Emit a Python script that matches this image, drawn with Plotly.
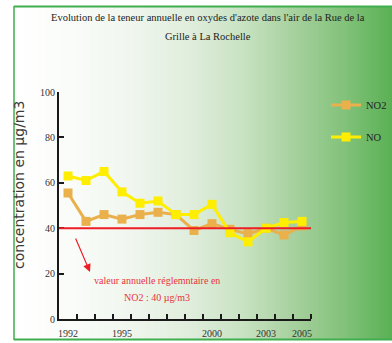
import plotly.graph_objects as go

# Annual means, Rue de la Grille (La Rochelle), µg/m3
years = list(range(1992, 2006))
no2 = [55.5, 43, 46, 44, 46, 47, 46, 39, 42, 39.5, 37.5, 40, 37, 41]
no = [63, 61, 65, 56, 51, 52, 46, 46, 50.5, 38, 34, 40, 42.5, 43]
limit_no2 = 40
tick_years = [1992, 1995, 2000, 2003, 2005]

W, H = 392, 343
L, R, T, B = 59, 311, 92, 319


def px(x):
    return (x - L) / (R - L)


def py(y):
    return (B - y) / (B - T)


fig = go.Figure()

fig.add_trace(go.Scatter(
    x=years, y=no2, name="NO2", mode="lines+markers",
    line=dict(color="#EAB04C", width=3),
    marker=dict(symbol="square", size=9, color="#EAB04C"),
    legend="legend", showlegend=True,
))
fig.add_trace(go.Scatter(
    x=years, y=no, name="NO", mode="lines+markers",
    line=dict(color="#FFEE00", width=3),
    marker=dict(symbol="square", size=9, color="#FFEE00"),
    legend="legend2", showlegend=True,
))

# background: white to green horizontal gradient inside the frame
stops = [(14, (255, 255, 255)), (70, (250, 252, 249)), (130, (240, 246, 238)),
         (190, (224, 237, 220)), (245, (199, 226, 193)), (295, (166, 208, 157)),
         (345, (130, 194, 122)), (392, (90, 176, 84))]


def colour_at(x):
    for (x0, c0), (x1, c1) in zip(stops[:-1], stops[1:]):
        if x0 <= x <= x1:
            t = (x - x0) / (x1 - x0)
            return "rgb(%d,%d,%d)" % tuple(round(a + (b - a) * t) for a, b in zip(c0, c1))
    return "rgb(%d,%d,%d)" % stops[-1][1]


shapes = []
step = 2
xs = 14
while xs < W:
    shapes.append(dict(type="rect", xref="paper", yref="paper", layer="below",
                       x0=px(xs), x1=px(xs + step + 0.5), y0=py(339), y1=py(7),
                       line=dict(width=0), fillcolor=colour_at(xs + step / 2)))
    xs += step

# green frame
frame = "#3FAE4F"
shapes += [
    dict(type="line", xref="paper", yref="paper", x0=px(14), x1=px(W + 2),
         y0=py(6.5), y1=py(6.5), line=dict(color=frame, width=2)),
    dict(type="line", xref="paper", yref="paper", x0=px(14), x1=px(W + 2),
         y0=py(339.5), y1=py(339.5), line=dict(color=frame, width=2)),
    dict(type="line", xref="paper", yref="paper", x0=px(14), x1=px(14),
         y0=py(6), y1=py(340), line=dict(color=frame, width=1.5)),
]

# NO2 annual limit value
shapes.append(dict(type="line", xref="x domain", yref="y", x0=0, x1=1,
                   y0=limit_no2, y1=limit_no2, layer="above",
                   line=dict(color="#EE1C25", width=2)))

serif = "Liberation Serif"
red = "#E8343C"
annotations = [
    dict(text="Evolution de la teneur annuelle en oxydes d'azote dans l'air de la Rue de la",
         xref="paper", yref="paper", x=px(208), y=py(18), showarrow=False,
         xanchor="center", yanchor="middle", font=dict(family=serif, size=10.5, color="#222")),
    dict(text="Grille à La Rochelle",
         xref="paper", yref="paper", x=px(208), y=py(37), showarrow=False,
         xanchor="center", yanchor="middle", font=dict(family=serif, size=10.5, color="#222")),
    dict(text="concentration en µg/m3", textangle=-90,
         xref="paper", yref="paper", x=px(19), y=py(185), showarrow=False,
         xanchor="center", yanchor="middle", font=dict(family="DejaVu Sans", size=14, color="#3a3a3a")),
    dict(text="valeur annuelle réglemntaire en",
         xref="paper", yref="paper", x=px(157), y=py(280), showarrow=False,
         xanchor="center", yanchor="middle", font=dict(family=serif, size=10, color=red)),
    dict(text="NO2 : %d µg/m3" % limit_no2,
         xref="paper", yref="paper", x=px(157), y=py(297), showarrow=False,
         xanchor="center", yanchor="middle", font=dict(family=serif, size=10, color=red)),
    dict(text="", xref="paper", yref="paper", x=px(90), y=py(272),
         ax=-15, ay=-35, showarrow=True, arrowhead=2, arrowsize=1.3,
         arrowwidth=1.2, arrowcolor="#EE1C25"),
]

axis_col = "#1A1A1A"
legend_font = dict(family=serif, size=10.5, color="#222")
fig.update_layout(
    width=W, height=H,
    margin=dict(l=L, r=W - R, t=T, b=H - B, autoexpand=False),
    paper_bgcolor="white", plot_bgcolor="rgba(0,0,0,0)",
    showlegend=True,
    shapes=shapes, annotations=annotations,
    legend=dict(x=px(326), y=py(105), xanchor="left", yanchor="middle",
                bgcolor="rgba(0,0,0,0)", font=legend_font, visible=True),
    legend2=dict(x=px(326), y=py(137), xanchor="left", yanchor="middle",
                 bgcolor="rgba(0,0,0,0)", font=legend_font, visible=True),
    xaxis=dict(range=[years[0] - 0.5, years[-1] + 0.5],
               tickvals=tick_years, ticktext=[str(y) for y in tick_years],
               ticks="", showgrid=False, zeroline=False,
               showline=True, linecolor=axis_col, linewidth=2,
               ticklabelstandoff=4,
               tickfont=dict(family=serif, size=10, color="#333"),
               minor=dict(tickvals=[y + 0.5 for y in years], ticks="inside",
                          ticklen=5, tickwidth=2, tickcolor=axis_col, showgrid=False)),
    yaxis=dict(range=[0, 100], dtick=20, ticks="inside", ticklen=5,
               tickwidth=2, tickcolor=axis_col, showgrid=False, zeroline=False,
               showline=True, linecolor=axis_col, linewidth=2,
               tickfont=dict(family=serif, size=10, color="#333")),
)

fig.write_html("out.html")
